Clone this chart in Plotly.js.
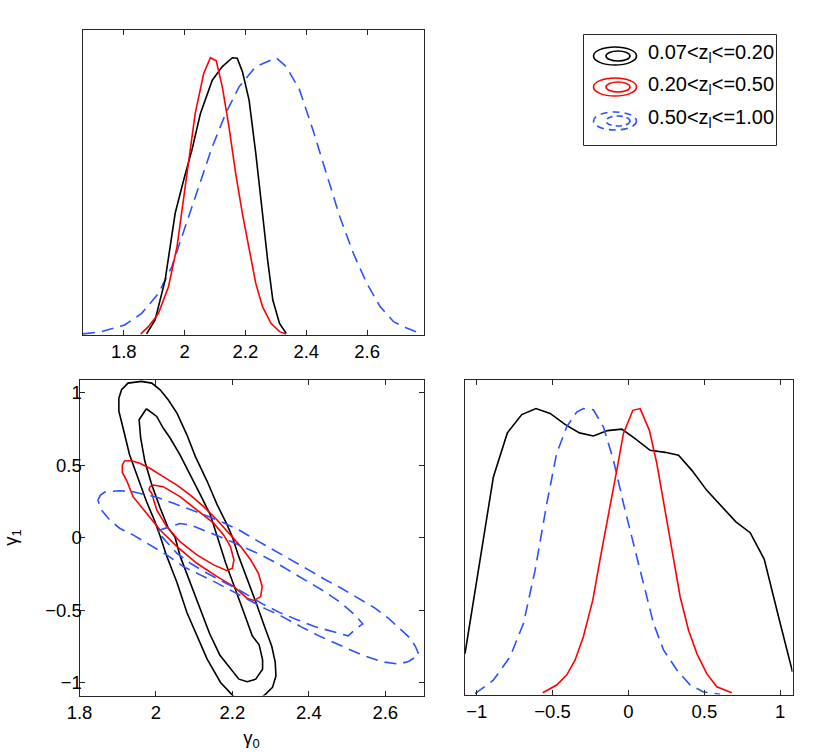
<!DOCTYPE html>
<html><head><meta charset="utf-8">
<script src="https://cdn.plot.ly/plotly-3.0.1.min.js"></script>
<style>html,body{margin:0;padding:0;background:#fff}#chart{width:830px;height:755px}</style>
</head><body><div id="chart"></div>
<script>
// ---------- data ----------
const seriesLabels = ['0.07&lt;z<sub>l</sub>&lt;=0.20', '0.20&lt;z<sub>l</sub>&lt;=0.50', '0.50&lt;z<sub>l</sub>&lt;=1.00'];

// 1D marginal of gamma_0
const g0BlackX = [1.875,1.903,1.936,1.969,1.997,2.024,2.052,2.091,2.124,2.157,2.173,2.190,2.212,2.234,2.256,2.273,2.290,2.312,2.334];
const g0BlackY = [0.004,0.054,0.198,0.439,0.559,0.667,0.799,0.919,0.968,1.0,0.998,0.95,0.847,0.655,0.439,0.27,0.126,0.042,0.006];
const g0RedX = [1.856,1.881,1.914,1.947,1.975,2.002,2.035,2.063,2.085,2.104,2.124,2.146,2.168,2.190,2.212,2.234,2.256,2.284,2.312,2.334];
const g0RedY = [0.004,0.03,0.078,0.174,0.318,0.535,0.8,0.944,1.0,0.989,0.895,0.75,0.582,0.438,0.306,0.186,0.102,0.042,0.012,0.004];
const g0BlueX = [1.666,1.726,1.803,1.859,1.914,1.958,2.002,2.046,2.091,2.135,2.179,2.234,2.301,2.334,2.378,2.422,2.466,2.510,2.555,2.599,2.643,2.687,2.732,2.770];
const g0BlueY = [0.004,0.012,0.036,0.078,0.15,0.246,0.39,0.535,0.679,0.799,0.895,0.968,1.0,0.968,0.884,0.739,0.583,0.427,0.294,0.186,0.102,0.048,0.024,0.008];

// 1D marginal of gamma_1
const g1BlackX = [-1.077,-0.989,-0.890,-0.798,-0.703,-0.609,-0.516,-0.418,-0.323,-0.231,-0.138,-0.044,0.044,0.143,0.242,0.330,0.418,0.516,0.615,0.708,0.802,0.895,0.989,1.081];
const g1BlackY = [0.143,0.435,0.761,0.915,0.979,1.0,0.983,0.945,0.915,0.904,0.923,0.928,0.895,0.854,0.847,0.837,0.784,0.714,0.656,0.604,0.566,0.473,0.272,0.079];
const g1RedX = [-0.565,-0.473,-0.407,-0.352,-0.297,-0.235,-0.176,-0.121,-0.077,-0.033,0.029,0.077,0.138,0.187,0.242,0.286,0.341,0.396,0.451,0.516,0.582,0.681];
const g1RedY = [0.006,0.033,0.068,0.12,0.202,0.33,0.505,0.668,0.784,0.913,0.994,1.0,0.924,0.808,0.645,0.505,0.341,0.225,0.143,0.073,0.027,0.006];
const g1BlueX = [-1.011,-0.890,-0.780,-0.692,-0.615,-0.538,-0.473,-0.407,-0.341,-0.297,-0.231,-0.165,-0.099,-0.033,0.033,0.099,0.165,0.231,0.319,0.407,0.495,0.604];
const g1BlueY = [0.003,0.05,0.132,0.248,0.435,0.668,0.843,0.936,0.988,1.0,0.996,0.936,0.82,0.668,0.528,0.389,0.249,0.156,0.086,0.033,0.009,0.001];

// 2D confidence contours (gamma_0, gamma_1)
const cBlackOuterX = [1.903,1.910,1.927,1.962,1.989,2.011,2.032,2.055,2.081,2.103,2.134,2.160,2.186,2.200,2.216,2.236,2.262,2.285,2.303,2.312,2.314,2.305,2.287,2.261,2.222,2.200,2.169,2.134,2.107,2.081,2.055,2.028,2.012,1.997,1.975,1.953,1.931,1.914,1.903,1.903];
const cBlackOuterY = [0.963,1.021,1.067,1.079,1.067,1.021,0.952,0.86,0.71,0.561,0.389,0.228,0.09,0.005,-0.126,-0.264,-0.45,-0.62,-0.75,-0.86,-0.954,-1.034,-1.08,-1.133,-1.147,-1.087,-1.0,-0.839,-0.678,-0.517,-0.31,-0.126,0.003,0.113,0.251,0.412,0.572,0.757,0.874,0.963];
const cBlackInnerX = [1.975,1.956,1.960,1.971,1.989,2.011,2.032,2.050,2.063,2.088,2.114,2.140,2.167,2.195,2.217,2.239,2.261,2.279,2.279,2.270,2.252,2.230,2.204,2.182,2.160,2.142,2.116,2.090,2.063,2.037,2.019,2.002,1.984,1.975];
const cBlackInnerY = [0.89,0.814,0.688,0.527,0.366,0.205,0.067,0.003,-0.126,-0.3,-0.49,-0.66,-0.81,-0.908,-0.977,-0.995,-0.977,-0.908,-0.843,-0.74,-0.678,-0.517,-0.333,-0.172,0.012,0.159,0.297,0.434,0.572,0.688,0.757,0.837,0.872,0.89];
const cRedOuterX = [1.918,1.936,1.958,1.984,2.019,2.055,2.090,2.125,2.160,2.195,2.222,2.248,2.268,2.278,2.274,2.257,2.239,2.204,2.160,2.107,2.055,2.011,1.975,1.940,1.923,1.912,1.912,1.918];
const cRedOuterY = [0.531,0.531,0.513,0.479,0.421,0.363,0.294,0.214,0.122,0.019,-0.062,-0.154,-0.246,-0.338,-0.407,-0.434,-0.42,-0.338,-0.269,-0.177,-0.062,0.053,0.168,0.283,0.398,0.45,0.5,0.531];
const cRedInnerX = [1.984,1.993,2.019,2.063,2.107,2.151,2.177,2.195,2.204,2.200,2.186,2.151,2.107,2.063,2.028,2.002,1.989,1.982,1.984];
const cRedInnerY = [0.352,0.363,0.352,0.283,0.191,0.1,0.019,-0.062,-0.154,-0.211,-0.228,-0.188,-0.119,-0.028,0.076,0.191,0.306,0.33,0.352];
const cBlueOuterX = [1.848,1.855,1.866,1.905,1.940,1.967,2.002,2.046,2.090,2.134,2.177,2.222,2.257,2.309,2.353,2.397,2.441,2.485,2.529,2.573,2.608,2.643,2.665,2.679,2.688,2.661,2.635,2.591,2.538,2.485,2.432,2.380,2.327,2.287,2.248,2.204,2.160,2.116,2.072,2.028,1.984,1.940,1.905,1.879,1.857,1.848];
const cBlueOuterY = [0.26,0.294,0.315,0.324,0.317,0.301,0.279,0.237,0.196,0.15,0.103,0.046,-0.009,-0.085,-0.153,-0.219,-0.287,-0.349,-0.418,-0.487,-0.556,-0.637,-0.694,-0.752,-0.809,-0.855,-0.873,-0.857,-0.809,-0.747,-0.685,-0.616,-0.54,-0.492,-0.437,-0.372,-0.314,-0.257,-0.2,-0.119,-0.05,0.019,0.065,0.122,0.191,0.26];
const cBlueInnerX = [2.005,2.011,2.037,2.063,2.090,2.125,2.177,2.222,2.266,2.309,2.353,2.397,2.441,2.485,2.520,2.541,2.520,2.503,2.459,2.415,2.371,2.327,2.283,2.248,2.222,2.177,2.134,2.090,2.055,2.028,2.011,2.005];
const cBlueInnerY = [0.039,0.053,0.076,0.098,0.088,0.053,-0.004,-0.057,-0.108,-0.166,-0.234,-0.303,-0.372,-0.452,-0.533,-0.595,-0.637,-0.678,-0.648,-0.614,-0.568,-0.521,-0.464,-0.409,-0.368,-0.306,-0.246,-0.177,-0.108,-0.03,0.019,0.039];

// tick values
const gamma0TopTicks = [1.8, 2, 2.2, 2.4, 2.6];
const gamma0Ticks = [1.8, 2, 2.2, 2.4, 2.6];
const gamma1Ticks = [-1, -0.5, 0, 0.5, 1];

// ---------- styles ----------
const W = 830, H = 755;
const colors = ['#000000', '#ff0000', '#2a52ff'];
const dashes = ['solid', 'solid', '12px,7px'];
const LW = 1.6;
const px = v => v / W;
const py = v => 1 - v / H;
const font = {family: 'Liberation Sans, Arial, Helvetica, sans-serif', size: 18.5, color: '#000'};

function line(x, y, i, xa, ya) {
  return {x, y, xaxis: xa, yaxis: ya, type: 'scatter', mode: 'lines', showlegend: false, hoverinfo: 'skip',
          line: {color: colors[i], width: LW, dash: dashes[i]}};
}

const traces = [
  line(g0BlueX, g0BlueY, 2, 'x', 'y'),
  line(g0BlackX, g0BlackY, 0, 'x', 'y'),
  line(g0RedX, g0RedY, 1, 'x', 'y'),
  line(cBlackOuterX, cBlackOuterY, 0, 'x2', 'y2'),
  line(cBlackInnerX, cBlackInnerY, 0, 'x2', 'y2'),
  line(cRedOuterX, cRedOuterY, 1, 'x2', 'y2'),
  line(cRedInnerX, cRedInnerY, 1, 'x2', 'y2'),
  line(cBlueOuterX, cBlueOuterY, 2, 'x2', 'y2'),
  line(cBlueInnerX, cBlueInnerY, 2, 'x2', 'y2'),
  line(g1BlackX, g1BlackY, 0, 'x3', 'y3'),
  line(g1BlueX, g1BlueY, 2, 'x3', 'y3'),
  line(g1RedX, g1RedY, 1, 'x3', 'y3')
];

const axCommon = {showgrid: false, zeroline: false, showline: true, linecolor: '#262626', linewidth: 1,
                  ticks: 'inside', ticklen: 5, tickwidth: 1, tickcolor: '#262626', mirror: 'ticks',
                  tickfont: font, fixedrange: true};
const noTicks = {showgrid: false, zeroline: false, showline: true, linecolor: '#262626', linewidth: 1,
                 ticks: '', showticklabels: false, tickvals: [], mirror: true, fixedrange: true};

// legend drawn as ellipse icons + text
const legendRows = [56, 87, 121];
const shapes = [{type: 'rect', xref: 'paper', yref: 'paper', x0: px(583.5), x1: px(776.5), y0: py(145.5), y1: py(34.5),
                 line: {color: '#262626', width: 1}, fillcolor: 'rgba(0,0,0,0)'}];
const annotations = [];
legendRows.forEach((cy, i) => {
  shapes.push({type: 'circle', xref: 'paper', yref: 'paper', x0: px(593.5), x1: px(636.5), y0: py(cy + 9), y1: py(cy - 9),
               line: {color: colors[i], width: LW, dash: i === 2 ? '7px,5px' : 'solid'}});
  shapes.push({type: 'circle', xref: 'paper', yref: 'paper', x0: px(606), x1: px(630), y0: py(cy + 5), y1: py(cy - 5),
               line: {color: colors[i], width: LW, dash: i === 2 ? '6px,4px' : 'solid'}});
  annotations.push({xref: 'paper', yref: 'paper', x: px(646), y: py(cy - 2), xanchor: 'left', yanchor: 'middle',
                    text: seriesLabels[i], showarrow: false, font: Object.assign({}, font, {size: 20})});
});

const layout = {
  width: W, height: H, margin: {l: 0, r: 0, t: 0, b: 0}, paper_bgcolor: '#fff', plot_bgcolor: '#fff',
  font: font, showlegend: false,
  xaxis: Object.assign({}, axCommon, {domain: [px(83), px(424)], anchor: 'y', range: [1.666, 2.787], tickvals: gamma0TopTicks}),
  yaxis: Object.assign({}, noTicks, {domain: [py(335), py(30)], anchor: 'x', range: [0, 1.1]}),
  xaxis2: Object.assign({}, axCommon, {domain: [px(79.5), px(423.5)], anchor: 'y2', range: [1.8, 2.7], tickvals: gamma0Ticks,
                                       title: {text: 'γ<sub>0</sub>', font: font, standoff: 9}}),
  yaxis2: Object.assign({}, axCommon, {domain: [py(695.5), py(379.5)], anchor: 'x2', range: [-1.09, 1.092], tickvals: gamma1Ticks,
                                       ticklabelstandoff: -7,
                                       title: {text: 'γ<sub>1</sub>', font: font, standoff: 22}}),
  xaxis3: Object.assign({}, axCommon, {domain: [px(465), px(792.5)], anchor: 'y3', range: [-1.077, 1.081], tickvals: gamma1Ticks}),
  yaxis3: Object.assign({}, noTicks, {domain: [py(694.5), py(380)], anchor: 'x3', range: [0, 1.1]}),
  shapes: shapes,
  annotations: annotations
};

Plotly.newPlot('chart', traces, layout, {displayModeBar: false, staticPlot: true});
</script>
</body></html>
